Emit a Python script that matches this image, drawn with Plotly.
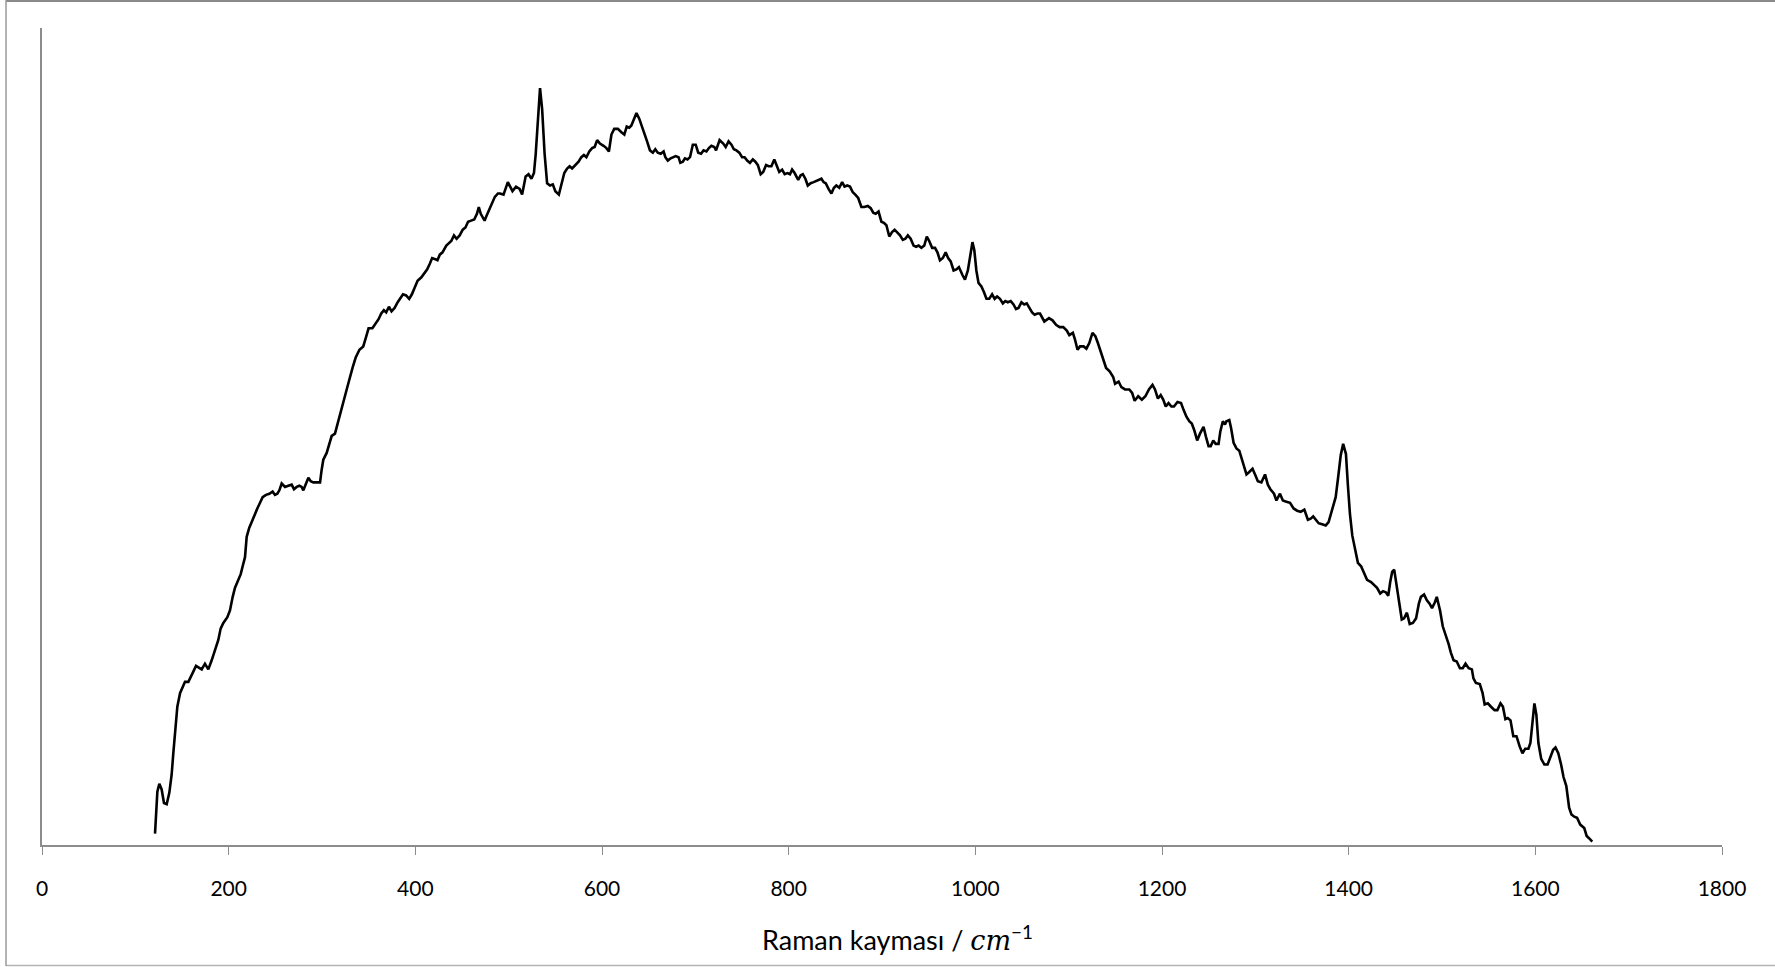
import plotly.graph_objects as go

# Raman shift (cm^-1) and intensity (arbitrary units)
raman_shift = [
    121.1, 122.1, 123.6, 125.7, 128.2, 130.7, 133.6, 136.4, 138.9, 140.7,
    142.5, 145.0, 147.9, 150.7, 153.2, 156.8, 159.3, 162.1, 165.0, 168.6,
    171.1, 174.6, 178.2, 181.8, 185.4, 188.9, 191.4, 194.3, 198.6, 201.4,
    204.3, 206.8, 210.4, 212.9, 215.0, 217.5, 219.3, 222.1, 225.7, 228.2,
    230.7, 233.6, 236.4, 240.0, 243.6, 247.1, 249.6, 252.1, 254.3, 256.8,
    260.4, 263.9, 267.5, 270.0, 272.9, 275.7, 278.2, 280.0, 282.9, 285.4,
    287.9, 290.7, 294.3, 297.9, 299.6, 301.4, 305.0, 307.9, 310.4, 313.9,
    316.4, 319.3, 322.1, 324.6, 327.1,
    332.7, 336.0, 340.1, 344.2, 347.1, 349.9, 354.0, 357.3, 360.6, 363.5,
    366.3, 368.8, 371.7, 374.5, 377.8, 381.1, 384.0, 386.8, 390.1, 393.4,
    396.3, 399.1, 402.4, 406.5, 409.8, 412.7, 415.5, 418.0, 421.3, 423.7,
    426.2, 429.1, 433.2, 436.1, 438.5, 441.4, 444.2, 447.5, 450.8, 453.7,
    456.5, 459.8, 463.1, 466.0, 468.0, 470.1, 472.1, 474.2, 476.2, 479.5,
    482.4, 485.2, 488.5,
    490.7, 494.5, 499.1, 504.1, 507.9, 511.7, 514.4, 518.2, 521.3, 524.4,
    527.1, 529.0, 533.6, 535.9, 538.5, 541.2, 544.3, 547.3, 550.0, 553.8,
    556.5, 559.6, 562.6, 565.3, 568.0, 571.1, 574.9, 577.9, 580.6, 583.3,
    586.4, 589.4, 592.1, 594.8, 597.8, 601.7, 604.7, 607.4, 610.1, 613.1,
    617.0, 620.8, 623.9, 626.5, 629.2, 631.5, 634.2, 636.9, 639.9, 643.0,
    645.7, 648.3, 651.4, 654.5, 657.1, 659.8, 662.9, 666.0, 667.9, 670.5,
    673.6, 676.3, 679.0, 682.0, 683.9, 686.6, 688.9, 691.6, 694.3, 697.3,
    700.4, 703.1, 706.1, 708.8, 711.9, 714.5, 717.2, 720.3, 722.2, 726.0,
    729.9, 732.5, 735.6, 738.7, 741.3, 744.0, 747.1, 750.1, 752.8, 755.5,
    758.5, 761.6, 764.3, 767.0, 770.0, 772.7, 775.8, 778.4, 781.5, 784.6,
    787.2, 789.9, 793.0, 795.7, 798.7, 801.4, 803.7, 806.4, 810.2, 812.9,
    815.2, 817.9, 820.5, 823.6, 826.7, 829.3, 832.0, 835.1, 837.4, 839.7,
    842.7, 845.8, 848.5, 851.1, 854.2, 857.3, 859.9, 862.6, 865.7, 868.7,
    871.4, 874.5, 877.9, 881.0, 884.8, 887.9, 890.6, 893.2, 896.3, 899.4,
    902.0, 904.7, 907.8, 910.8, 913.5, 916.2, 919.3, 922.3, 925.0, 927.7,
    930.7, 933.8, 936.5, 939.2, 942.2, 945.3, 948.0, 950.6, 953.7, 956.8,
    959.4, 962.1, 965.2, 968.2, 970.9, 973.6, 976.7, 979.7, 982.4, 986.2,
    988.9, 992.0, 995.0, 996.9, 998.9, 1001.1, 1003.4, 1006.5, 1009.2, 1011.9,
    1014.9, 1018.0, 1020.7, 1023.3, 1026.4, 1029.5, 1032.1, 1034.8, 1037.9, 1040.9,
    1043.6, 1046.3, 1049.4, 1052.4, 1055.1, 1057.8, 1060.8, 1063.5, 1066.6,
    1069.3, 1073.9, 1078.9, 1082.7, 1086.5, 1090.3, 1094.2, 1098.0, 1100.7, 1104.5,
    1106.8, 1109.5, 1112.2, 1116.0, 1119.0, 1122.1, 1125.5, 1128.6, 1131.3, 1134.3,
    1137.4, 1140.1, 1143.9, 1147.7, 1149.7, 1153.5, 1156.5, 1160.4, 1165.0, 1168.0,
    1170.7, 1174.5, 1178.4, 1182.2, 1186.0, 1189.8, 1192.5, 1195.6, 1198.6, 1201.3,
    1204.0, 1207.0, 1210.1, 1212.8, 1216.6, 1220.4, 1223.1, 1226.2, 1229.2, 1231.9,
    1234.6, 1237.7, 1240.7, 1244.5, 1247.2, 1249.9, 1252.2, 1254.9, 1257.5, 1260.6,
    1262.5, 1265.2, 1267.5, 1269.0, 1272.1, 1274.0, 1276.7, 1279.8, 1282.8, 1285.5,
    1288.2, 1290.5, 1293.2, 1297.0, 1299.7, 1302.7, 1306.5, 1310.4, 1313.4, 1316.1,
    1320.0, 1322.6, 1326.4, 1329.5, 1333.3, 1337.2, 1341.0, 1344.8, 1348.6, 1352.5,
    1356.3, 1359.3, 1362.0, 1364.7, 1367.8, 1371.6, 1375.4, 1378.5, 1381.2, 1383.8,
    1386.1, 1388.8, 1391.5,
    1394.1, 1397.1, 1399.2, 1401.4, 1403.9, 1406.9, 1409.9, 1413.3, 1416.7, 1419.7,
    1424.0, 1427.0, 1430.4, 1433.8, 1436.8, 1439.8, 1442.4, 1444.5, 1446.6, 1448.8,
    1450.9, 1453.9, 1456.9, 1459.4, 1462.4, 1465.4, 1468.8, 1472.2, 1475.2, 1477.4,
    1480.8, 1483.8, 1486.7, 1489.3, 1492.3, 1494.4, 1497.9, 1500.8, 1503.8, 1507.2,
    1509.4, 1512.4, 1515.8, 1519.2, 1522.2, 1525.2, 1528.6, 1532.0, 1533.7, 1536.3,
    1540.5, 1543.5, 1545.7, 1549.1, 1552.5, 1556.3, 1559.3, 1562.7, 1565.3, 1567.9,
    1570.4, 1573.4, 1576.4, 1579.8, 1583.2, 1586.2, 1589.2, 1592.6, 1594.7, 1596.9,
    1599.0, 1601.1, 1603.3, 1606.3, 1609.7, 1613.1, 1616.1, 1619.1, 1621.6, 1624.6,
    1627.6, 1630.2, 1633.2, 1636.2, 1638.7, 1641.7, 1644.7, 1648.1, 1652.4, 1655.0,
    1657.5, 1661.0,
]
intensity = [
    100, 310, 470, 540, 490, 370, 360, 460, 620, 810,
    1010, 1220, 1340, 1400, 1440, 1440, 1490, 1530, 1580, 1560,
    1550, 1600, 1550, 1630, 1720, 1810, 1910, 1960, 2010, 2070,
    2190, 2270, 2340, 2390, 2460, 2540, 2720, 2800, 2870, 2930,
    2970, 3020, 3070, 3090, 3100, 3120, 3090, 3100, 3130, 3190,
    3160, 3170, 3180, 3140, 3160, 3170, 3160, 3130, 3190, 3240,
    3210, 3200, 3200, 3200, 3310, 3400, 3460, 3540, 3610, 3630,
    3710, 3790, 3900, 3970, 4040,
    4210, 4300, 4370, 4400, 4480, 4560, 4560, 4600, 4640, 4690,
    4720, 4700, 4750, 4710, 4740, 4790, 4830, 4860, 4850, 4820,
    4860, 4910, 4980, 5010, 5050, 5080, 5130, 5180, 5170, 5160,
    5210, 5230, 5290, 5310, 5330, 5380, 5350, 5380, 5430, 5450,
    5500, 5510, 5520, 5570, 5630, 5570, 5540, 5510, 5550, 5610,
    5670, 5720, 5750,
    5750, 5740, 5850, 5770, 5810, 5790, 5740, 5900, 5920, 5880,
    5930, 6100, 6680, 6490, 6100, 5840, 5820, 5830, 5770, 5740,
    5820, 5930, 5970, 5990, 5970, 6000, 6030, 6070, 6090, 6070,
    6120, 6150, 6160, 6220, 6190, 6170, 6150, 6120, 6270, 6320,
    6320, 6290, 6270, 6340, 6330, 6350, 6400, 6460, 6410, 6340,
    6280, 6210, 6130, 6110, 6140, 6110, 6100, 6120, 6070, 6040,
    6060, 6070, 6080, 6070, 6020, 6030, 6060, 6050, 6070, 6180,
    6180, 6110, 6100, 6130, 6120, 6150, 6170, 6160, 6130, 6220,
    6190, 6160, 6210, 6180, 6140, 6130, 6110, 6070, 6070, 6040,
    6020, 6050, 6030, 6000, 5920, 5940, 6000, 5990, 5990, 6050,
    5990, 5940, 5960, 5920, 5930, 5920, 5960, 5930, 5870, 5910,
    5920, 5880, 5820, 5840, 5850, 5860, 5870, 5880, 5850, 5840,
    5790, 5750, 5800, 5820, 5800, 5850, 5810, 5820, 5810, 5760,
    5740, 5710, 5630, 5630, 5640, 5620, 5580, 5570, 5590, 5500,
    5490, 5470, 5370, 5410, 5430, 5410, 5380, 5340, 5350, 5380,
    5350, 5290, 5280, 5290, 5270, 5290, 5370, 5330, 5270, 5270,
    5230, 5160, 5180, 5230, 5180, 5150, 5070, 5080, 5100, 5030,
    4990, 5070, 5240, 5320, 5250, 5070, 4960, 4930, 4880, 4820,
    4820, 4860, 4820, 4840, 4820, 4780, 4800, 4790, 4800, 4770,
    4730, 4740, 4790, 4770, 4780, 4740, 4700, 4680, 4690,
    4690, 4620, 4650, 4630, 4590, 4570, 4570, 4540, 4500, 4520,
    4460, 4370, 4400, 4400, 4380, 4430, 4520, 4490, 4430, 4350,
    4270, 4210, 4180, 4130, 4070, 4090, 4040, 4020, 4020, 3990,
    3920, 3960, 3930, 3960, 4020, 4060, 4020, 3940, 3970, 3930,
    3870, 3900, 3870, 3870, 3910, 3900, 3840, 3780, 3740, 3720,
    3660, 3570, 3630, 3690, 3600, 3520, 3520, 3570, 3540, 3540,
    3650, 3740, 3710, 3740, 3750, 3680, 3550, 3500, 3480, 3400,
    3340, 3270, 3290, 3320, 3270, 3210, 3200, 3270, 3180, 3140,
    3100, 3040, 3100, 3040, 3030, 3020, 2970, 2950, 2940, 2960,
    2870, 2880, 2900, 2870, 2840, 2830, 2820, 2850, 2930, 3000,
    3070, 3250, 3440,
    3540, 3450, 3170, 2920, 2730, 2600, 2490, 2460, 2400, 2340,
    2320, 2300, 2270, 2220, 2240, 2230, 2200, 2320, 2410, 2430,
    2320, 2130, 1990, 2000, 2050, 1950, 1960, 2000, 2130, 2190,
    2210, 2160, 2130, 2090, 2140, 2190, 2070, 1930, 1860, 1770,
    1700, 1630, 1620, 1560, 1560, 1600, 1560, 1550, 1470, 1430,
    1420, 1340, 1240, 1250, 1220, 1190, 1190, 1250, 1220, 1110,
    1120, 1100, 960, 960, 870, 810, 850, 850, 900, 1090,
    1250, 1150, 900, 760, 710, 710, 770, 840, 860, 810,
    710, 600, 520, 330, 270, 250, 240, 180, 150, 80,
    60, 30,
]

x_ticks = [0, 200, 400, 600, 800, 1000, 1200, 1400, 1600, 1800]
x_title = "Raman kayması / <span style=\"font-family:'DejaVu Serif'\"><i>cm</i></span><sup>−1</sup>"

W, H = 1775, 967
L, R, T, B = 42, 53, 28, 122
pw, ph = W - L - R, H - T - B


def px(x):
    return (x - L) / pw


def py(y):
    return (H - B - y) / ph


fig = go.Figure()
fig.add_trace(go.Scatter(
    x=raman_shift, y=intensity, mode="lines",
    line=dict(color="black", width=2.6),
    showlegend=False, hoverinfo="x+y",
))

axis_grey = "#8c8c8c"
fig.update_layout(
    width=W, height=H,
    margin=dict(l=L, r=R, t=T, b=B),
    paper_bgcolor="white", plot_bgcolor="white",
    font=dict(family="Lato, 'Open Sans', sans-serif", color="black", size=21),
    xaxis=dict(
        range=[0, 1800], tickvals=x_ticks, ticktext=[str(v) for v in x_ticks],
        showgrid=False, zeroline=False, showline=True, linecolor=axis_grey, linewidth=1.6,
        ticks="outside", ticklen=8, tickwidth=1.4, tickcolor=axis_grey,
        ticklabelstandoff=16,
        tickfont=dict(size=21),
    ),
    yaxis=dict(
        range=[0, 7210], showgrid=False, zeroline=False, showticklabels=False,
        showline=True, linecolor=axis_grey, linewidth=1.6, ticks="",
    ),
    annotations=[
        dict(text=x_title, xref="paper", yref="paper", x=px(897), y=py(938),
             xanchor="center", yanchor="middle", showarrow=False,
             font=dict(size=27, color="black")),
    ],
    shapes=[
        dict(type="line", xref="paper", yref="paper", x0=px(6), x1=px(W + 10), y0=py(1), y1=py(1),
             line=dict(color="#8a8a8a", width=2)),
        dict(type="line", xref="paper", yref="paper", x0=px(6), x1=px(W + 10), y0=py(965.5), y1=py(965.5),
             line=dict(color="#b4b4b4", width=1.5)),
        dict(type="line", xref="paper", yref="paper", x0=px(6), x1=px(6), y0=py(0), y1=py(966),
             line=dict(color="#9a9a9a", width=1.5)),
    ],
)

fig.write_html("out.html")
